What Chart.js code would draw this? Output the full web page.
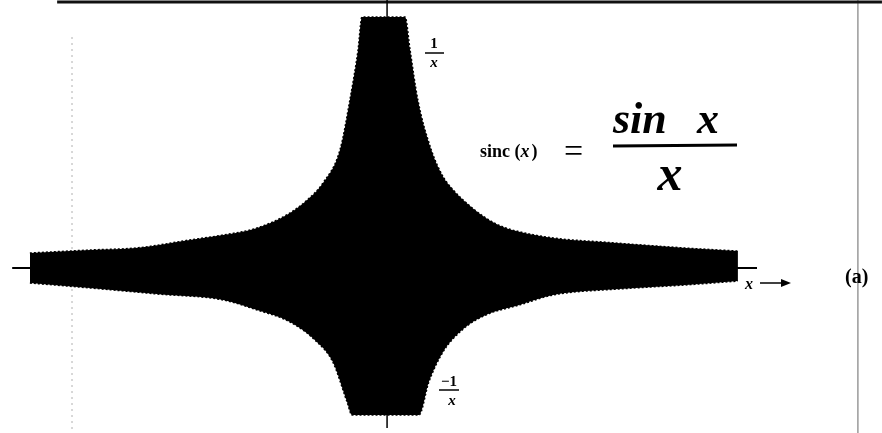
<!DOCTYPE html>
<html>
<head>
<meta charset="utf-8">
<script src="https://cdn.jsdelivr.net/npm/chart.js@4/dist/chart.umd.min.js"></script>
<style>
  html, body { margin: 0; padding: 0; background: #fff; }
  #wrap { width: 882px; height: 433px; }
</style>
</head>
<body>
<div id="wrap"><canvas id="sincChart" width="882" height="433"></canvas></div>
<script>
// upper envelope (1/x side)
const xUpper = [-10.06, -8.36, -7.0, -5.54, -4.60, -3.64, -2.71, -2.23, -1.78, -1.30, -1.02, -0.79, -0.68,
                0.54, 0.68, 0.90, 1.28, 1.61, 1.90, 2.18, 2.82, 3.31, 3.76, 4.72, 6.13, 8.47, 9.94];
const yUpper = [0.10, 0.12, 0.135, 0.187, 0.22, 0.267, 0.367, 0.453, 0.567, 0.787, 1.12, 1.453, 1.673,
                1.673, 1.453, 1.12, 0.787, 0.61, 0.52, 0.453, 0.333, 0.273, 0.242, 0.20, 0.173, 0.133, 0.113];
// lower envelope (-1/x side)
const xLower = [-10.06, -8.36, -6.47, -4.60, -3.64, -2.71, -1.95, -1.50, -1.10, -0.96,
                0.93, 1.21, 1.61, 2.18, 2.82, 3.76, 4.72, 6.58, 8.47, 9.94];
const yLower = [-0.10, -0.133, -0.173, -0.213, -0.28, -0.36, -0.493, -0.627, -0.893, -0.98,
                -0.98, -0.76, -0.56, -0.407, -0.313, -0.247, -0.18, -0.14, -0.113, -0.087];
// axes
const xAxisX = [-10.56, 10.48];
const xAxisY = [0, 0];
const yAxisX = [0.03, 0.03];
const yAxisY = [1.79, -1.067];

function pts(xs, ys) {
  return xs.map((x, i) => ({ x: x, y: ys[i] }));
}

const envelope = {
  borderColor: '#000',
  backgroundColor: '#000',
  borderWidth: 1.5,
  borderDash: [2, 2],
  fill: 'origin',
  pointRadius: 0,
  cubicInterpolationMode: 'monotone',
  order: 1
};

const labels = {
  id: 'labels',
  afterDatasetsDraw(chart) {
    const ctx = chart.ctx;
    ctx.save();
    ctx.fillStyle = '#000';
    ctx.strokeStyle = '#000';
    ctx.textAlign = 'center';
    ctx.textBaseline = 'alphabetic';

    // 1/x
    ctx.font = 'bold 15px "Liberation Serif"';
    ctx.fillText('1', 434, 48);
    ctx.font = 'italic bold 15px "Liberation Serif"';
    ctx.fillText('x', 434, 67);
    ctx.lineWidth = 1.5;
    ctx.beginPath(); ctx.moveTo(425, 53); ctx.lineTo(444, 53); ctx.stroke();

    // -1/x
    ctx.font = 'bold 15px "Liberation Serif"';
    ctx.fillText('\u22121', 449, 386);
    ctx.font = 'italic bold 15px "Liberation Serif"';
    ctx.fillText('x', 452, 405);
    ctx.beginPath(); ctx.moveTo(439, 390); ctx.lineTo(459, 390); ctx.stroke();

    // sinc (x) = sin x / x
    ctx.textAlign = 'left';
    ctx.font = 'bold 18px "Liberation Serif"';
    ctx.fillText('sinc (', 480, 157);
    let w = ctx.measureText('sinc (').width;
    ctx.font = 'italic bold 18px "Liberation Serif"';
    ctx.fillText('x', 480 + w, 157);
    w += ctx.measureText('x').width;
    ctx.font = 'bold 18px "Liberation Serif"';
    ctx.fillText(')', 482 + w, 157);

    ctx.font = '34px "Liberation Serif"';
    ctx.fillText('=', 564, 162);

    ctx.font = 'italic bold 44px "Liberation Serif"';
    ctx.fillText('sin', 613, 133);
    ctx.fillText('x', 697, 133);
    ctx.lineWidth = 3;
    ctx.beginPath(); ctx.moveTo(613, 146); ctx.lineTo(737, 145); ctx.stroke();
    ctx.textAlign = 'center';
    ctx.font = 'italic bold 50px "Liberation Serif"';
    ctx.fillText('x', 670, 190);

    // x ->
    ctx.textAlign = 'left';
    ctx.font = 'italic bold 16px "Liberation Serif"';
    ctx.fillText('x', 745, 289);
    ctx.lineWidth = 1.5;
    ctx.beginPath(); ctx.moveTo(760, 283); ctx.lineTo(788, 283); ctx.stroke();
    ctx.beginPath(); ctx.moveTo(791, 283); ctx.lineTo(781, 279); ctx.lineTo(781, 287); ctx.closePath(); ctx.fill();

    // (a)
    ctx.font = 'bold 20px "Liberation Serif"';
    ctx.fillText('(a)', 845, 283);
    ctx.restore();
  }
};

const ctx1 = document.getElementById('sincChart').getContext('2d');
const myChart1 = new Chart(ctx1, {
  type: 'line',
  data: {
    datasets: [
      Object.assign({ label: '1/x', data: pts(xUpper, yUpper) }, envelope),
      Object.assign({ label: '-1/x', data: pts(xLower, yLower) }, envelope),
      { label: 'x axis', data: pts(xAxisX, xAxisY), borderColor: '#000', borderWidth: 2,
        pointRadius: 0, fill: false, order: 3 },
      { label: 'y axis', data: pts(yAxisX, yAxisY), borderColor: '#000', borderWidth: 1.5,
        pointRadius: 0, fill: false, order: 3 },
      // scan frame lines
      { label: 'frame top', data: [{ x: -9.29, y: 1.773 }, { x: 14.01, y: 1.773 }],
        borderColor: '#111', borderWidth: 3, pointRadius: 0, fill: false, order: 4 },
      { label: 'frame right', data: [{ x: 13.33, y: 1.79 }, { x: 13.33, y: -1.1 }],
        borderColor: '#9a9a9a', borderWidth: 1.5, pointRadius: 0, fill: false, order: 4 },
      { label: 'frame left', data: [{ x: -8.87, y: 1.54 }, { x: -8.87, y: -1.08 }],
        borderColor: '#b0b0b0', borderWidth: 1, borderDash: [2, 4], pointRadius: 0, fill: false, order: 4 }
    ]
  },
  options: {
    responsive: false,
    animation: false,
    layout: { padding: 0 },
    plugins: { legend: { display: false }, tooltip: { enabled: false } },
    scales: {
      x: { type: 'linear', display: false, min: -10.904, max: 14.011 },
      y: { type: 'linear', display: false, min: -1.1, max: 1.7867 }
    }
  },
  plugins: [labels]
});
</script>
</body>
</html>
